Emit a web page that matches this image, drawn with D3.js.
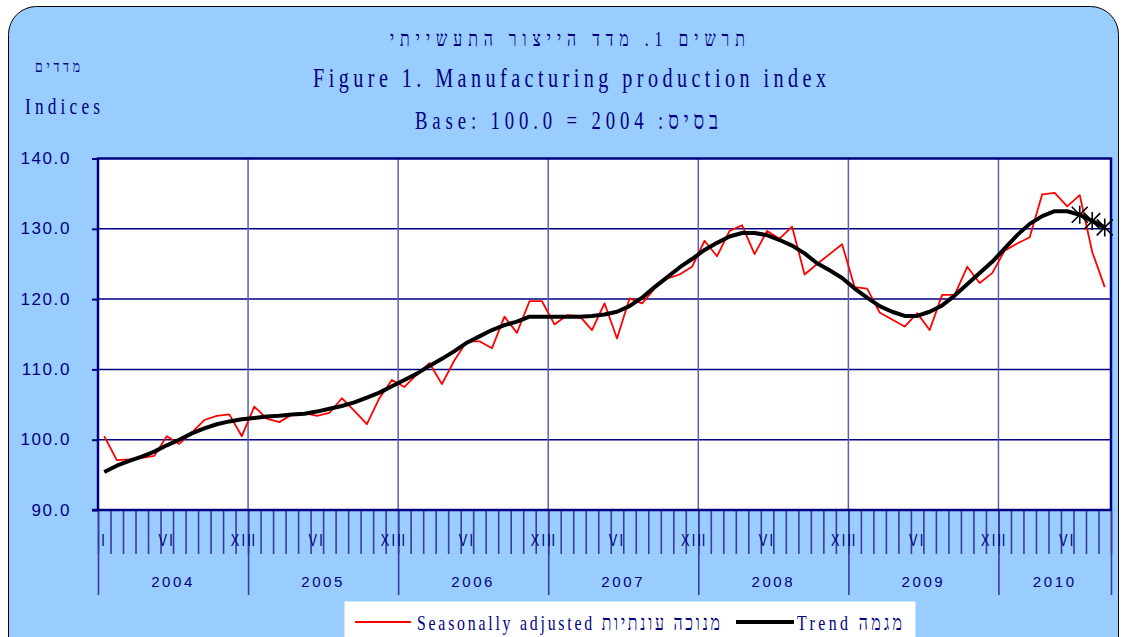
<!DOCTYPE html>
<head>
  <meta charset="utf-8">
  <script src="https://d3js.org/d3.v7.min.js"></script>
  <style>
    body { margin: 0; background: #fff; }
    text { fill: #000080; }
    .serif { font-family: 'Liberation Serif', 'DejaVu Serif', serif; }
    .sans { font-family: 'Liberation Sans', Arial, sans-serif; }
  </style>
</head>
<body>
  <svg id="chart" width="1122" height="637"></svg>
  <script>
    // monthly series, Jan 2004 .. Sep 2010
    var seasonal = [
      100.5, 97.1, 97.2, 97.4, 97.7, 100.5, 99.4, 101.0, 102.8, 103.4, 103.6, 100.5,
      104.7, 103.0, 102.5, 103.6, 103.8, 103.4, 103.8, 105.9, 104.1, 102.2, 105.9, 108.5,
      107.5, 109.3, 110.9, 107.9, 111.3, 114.0, 114.0, 113.0, 117.5, 115.2, 119.7, 119.7,
      116.4, 117.7, 117.6, 115.6, 119.4, 114.4, 120.1, 119.4, 121.5, 122.9, 123.5, 124.6,
      128.3, 126.1, 129.7, 130.5, 126.4, 129.7, 128.6, 130.3, 123.5, 125.0, 126.4, 127.8,
      121.7, 121.5, 118.1, 117.1, 116.1, 118.0, 115.6, 120.6, 120.6, 124.6, 122.3, 123.7,
      126.9, 127.9, 128.8, 134.9, 135.1, 133.2, 134.8, 126.7, 121.7
    ];
    var trend = [
      95.4, 96.3, 97.0, 97.6, 98.3, 99.2, 100.0, 100.9, 101.6, 102.2, 102.6, 102.9,
      103.1, 103.3, 103.4, 103.6, 103.7, 104.0, 104.4, 104.8, 105.3, 106.0, 106.7, 107.6,
      108.5, 109.4, 110.5, 111.5, 112.6, 113.8, 114.7, 115.6, 116.3, 116.8, 117.5, 117.5,
      117.5, 117.5, 117.5, 117.6, 117.8, 118.2, 119.0, 120.2, 121.7, 123.1, 124.5, 125.7,
      127.0, 128.0, 128.9, 129.4, 129.4, 129.1, 128.4, 127.6, 126.5, 125.1, 124.1, 123.0,
      121.5, 120.2, 119.0, 118.2, 117.6, 117.6, 118.2, 119.1, 120.5, 122.1, 123.7, 125.3,
      127.2, 129.1, 130.7, 131.8, 132.5, 132.5, 132.0, 131.1, 130.2
    ];
    var provisional = [78, 79, 80]; // trend points marked with a star
    var years = ['2004', '2005', '2006', '2007', '2008', '2009', '2010'];
    var monthsInYear = [12, 12, 12, 12, 12, 12, 9];
    var monthLabels = ['I', '', '', '', '', 'VI', '', '', '', '', '', 'XII'];
    var yTicks = [90, 100, 110, 120, 130, 140];

    var svg = d3.select('#chart');
    var pl = 98, pr = 1111, pt = 158.5, pb = 510;
    var n = seasonal.length;

    var x = d3.scaleBand().domain(d3.range(n)).range([pl, pr]);
    var xb = d3.scaleLinear().domain([0, n]).range([pl, pr]);
    var y = d3.scaleLinear().domain([90, 140]).range([pb, pt]);
    var cx = (i) => x(i) + x.bandwidth() / 2;

    // panel
    svg.append('rect')
      .attr('x', 8.5).attr('y', 6.5).attr('width', 1110).attr('height', 660)
      .attr('rx', 28).attr('fill', '#99CCFF').attr('stroke', '#000').attr('stroke-width', 1);

    // condensed, letter-spaced text
    function label(str, x0, base, size, width, cls, sx) {
      sx = sx || 0.72;
      return svg.append('text')
        .attr('class', cls)
        .attr('transform', 'translate(' + x0 + ',' + base + ') scale(' + sx + ',1)')
        .attr('textLength', width / sx)
        .attr('lengthAdjust', 'spacing')
        .style('font-size', size + 'px')
        .text(str);
    }

    label('תרשים 1. מדד הייצור התעשייתי', 390, 46, 22, 355, 'serif');
    label('Figure 1. Manufacturing production index', 313, 87, 28, 513, 'serif');
    label('Base: 100.0 = 2004 :בסיס', 415, 129, 26, 303, 'serif');
    label('מדדים', 35, 72, 17, 45, 'serif');
    label('Indices', 25, 114, 24, 75, 'serif');

    // plot area
    svg.append('rect')
      .attr('x', pl).attr('y', pt).attr('width', pr - pl).attr('height', pb - pt)
      .attr('fill', '#fff');

    // horizontal grid
    svg.append('g')
      .selectAll('line')
      .data(yTicks.slice(1, -1))
      .join('line')
      .attr('x1', pl).attr('x2', pr)
      .attr('y1', (d) => y(d)).attr('y2', (d) => y(d))
      .attr('stroke', '#000080').attr('stroke-width', 1.5);

    // vertical year grid
    var bounds = [0];
    monthsInYear.forEach((m, i) => bounds.push(bounds[i] + m));
    svg.append('g')
      .selectAll('line')
      .data(bounds.slice(1, -1))
      .join('line')
      .attr('x1', (d) => xb(d)).attr('x2', (d) => xb(d))
      .attr('y1', pt).attr('y2', pb)
      .attr('stroke', '#5E5EAE').attr('stroke-width', 1.5);

    // y axis
    var yAxis = svg.append('g')
      .attr('transform', 'translate(' + pl + ',0)')
      .call(d3.axisLeft(y).tickValues(yTicks).tickSize(6).tickPadding(21).tickFormat(d3.format('.1f')));
    yAxis.select('.domain').remove();
    yAxis.selectAll('.tick line').attr('stroke', '#000080').attr('stroke-width', 2);
    yAxis.selectAll('text')
      .attr('class', 'sans')
      .style('font-size', '17px')
      .style('letter-spacing', '1.6px')
      .attr('fill', '#000080')
      .attr('dy', '0.3em');

    // month ticks
    var mAxis = svg.append('g')
      .attr('transform', 'translate(0,' + pb + ')')
      .call(d3.axisBottom(xb).tickValues(d3.range(0, n + 1)).tickSize(44).tickFormat(''));
    mAxis.select('.domain').remove();
    mAxis.selectAll('.tick line').attr('stroke', '#3A3AA0').attr('stroke-width', 1.6);

    // year ticks
    var yrAxis = svg.append('g')
      .attr('transform', 'translate(0,' + pb + ')')
      .call(d3.axisBottom(xb).tickValues(bounds).tickSize(85).tickFormat(''));
    yrAxis.select('.domain').remove();
    yrAxis.selectAll('.tick line').attr('stroke', '#3A3AA0').attr('stroke-width', 1.6);

    // month labels
    svg.append('g')
      .selectAll('text')
      .data(d3.range(n).filter((i) => monthLabels[i % 12] !== ''))
      .join('text')
      .attr('class', 'sans')
      .attr('transform', (i) => 'translate(' + cx(i) + ',546) scale(0.75,1)')
      .attr('text-anchor', 'middle')
      .style('font-size', '17px')
      .style('letter-spacing', '3px')
      .text((i) => monthLabels[i % 12]);

    // year labels
    svg.append('g')
      .selectAll('text')
      .data(years)
      .join('text')
      .attr('class', 'sans')
      .attr('x', (d, i) => (xb(bounds[i]) + xb(bounds[i + 1])) / 2)
      .attr('y', 587)
      .attr('text-anchor', 'middle')
      .style('font-size', '15px')
      .style('letter-spacing', '2.6px')
      .text((d) => d);

    // plot border
    svg.append('path')
      .attr('d', 'M' + pl + ',' + pb + 'V' + pt + 'H' + pr + 'V' + pb)
      .attr('fill', 'none').attr('stroke', '#000080').attr('stroke-width', 2.5);
    svg.append('line')
      .attr('x1', pl - 6).attr('x2', pr + 1)
      .attr('y1', pb).attr('y2', pb)
      .attr('stroke', '#000080').attr('stroke-width', 2.5);

    // series
    svg.append('path')
      .datum(seasonal)
      .attr('fill', 'none').attr('stroke', '#FF0000').attr('stroke-width', 1.8)
      .attr('stroke-linejoin', 'round')
      .attr('d', d3.line().x((d, i) => cx(i)).y((d) => y(d)));

    svg.append('path')
      .datum(trend)
      .attr('fill', 'none').attr('stroke', '#000').attr('stroke-width', 4)
      .attr('stroke-linejoin', 'round')
      .attr('d', d3.line().x((d, i) => cx(i)).y((d) => y(d)));

    var star = 'M-8,-8L8,8M-8,8L8,-8M0,-9V9';
    svg.append('g')
      .selectAll('path')
      .data(provisional)
      .join('path')
      .attr('transform', (i) => 'translate(' + cx(i) + ',' + y(trend[i]) + ')')
      .attr('d', star)
      .attr('stroke', '#000').attr('stroke-width', 1.6).attr('fill', 'none');

    // legend
    svg.append('rect')
      .attr('x', 344.5).attr('y', 601.5).attr('width', 571).attr('height', 50)
      .attr('fill', '#fff');
    svg.append('line')
      .attr('x1', 355).attr('x2', 411).attr('y1', 622).attr('y2', 622)
      .attr('stroke', '#FF0000').attr('stroke-width', 2);
    label('Seasonally adjusted מנוכה עונתיות', 417, 630, 22, 303, 'serif');
    svg.append('line')
      .attr('x1', 736).attr('x2', 794).attr('y1', 622).attr('y2', 622)
      .attr('stroke', '#000').attr('stroke-width', 4);
    label('Trend מגמה', 797, 630, 22, 105, 'serif');
  </script>
</body>
</html>
